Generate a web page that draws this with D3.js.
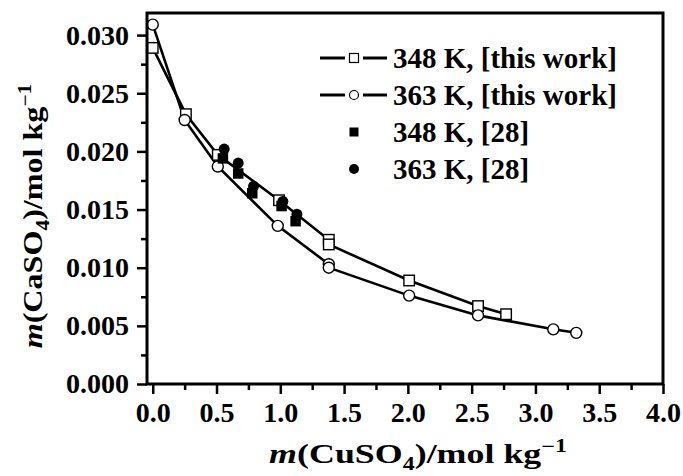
<!DOCTYPE html>
<html>
<head>
<meta charset="utf-8">
<script src="https://cdn.jsdelivr.net/npm/d3@7"></script>
<style>
  body { margin: 0; background: #fff; }
  text { font-family: "Liberation Serif", "Times New Roman", serif; font-weight: bold; fill: #000; }
</style>
</head>
<body>
<svg width="683" height="476"></svg>
<script>
// Data
const x348 = [0.0, 0.26, 0.51, 0.99, 1.38, 1.38, 2.01, 2.55, 2.77];
const y348 = [0.0289, 0.0232, 0.0197, 0.0158, 0.0124, 0.0120, 0.0089, 0.0067, 0.0060];

const x363 = [0.0, 0.25, 0.51, 0.98, 1.38, 1.38, 2.01, 2.55, 3.14, 3.32];
const y363 = [0.0309, 0.0227, 0.0187, 0.0136, 0.0103, 0.0100, 0.0076, 0.0059, 0.0047, 0.0044];

const xLit348 = [0.55, 0.67, 0.78, 1.01, 1.12];
const yLit348 = [0.0194, 0.0181, 0.0164, 0.0153, 0.0140];

const xLit363 = [0.56, 0.67, 0.79, 1.02, 1.13];
const yLit363 = [0.0202, 0.0190, 0.0170, 0.0157, 0.0146];

const xTicks = [0.0, 0.5, 1.0, 1.5, 2.0, 2.5, 3.0, 3.5, 4.0];
const xMinor = [0.25, 0.75, 1.25, 1.75, 2.25, 2.75, 3.25, 3.75];
const yTicks = [0.000, 0.005, 0.010, 0.015, 0.020, 0.025, 0.030];
const yMinor = [0.0025, 0.0075, 0.0125, 0.0175, 0.0225, 0.0275];

const legendLabels = ["348 K, [this work]", "363 K, [this work]", "348 K, [28]", "363 K, [28]"];

// Set SVG dimensions
const margin = { top: 13, right: 20, bottom: 92, left: 147 },
      width = 683 - margin.left - margin.right,
      height = 476 - margin.top - margin.bottom;

const svg = d3.select("svg")
    .append("g")
    .attr("transform", `translate(${margin.left},${margin.top})`);

// Scales
const x = d3.scaleLinear().domain([-0.045, 4.0]).range([0, width]);
const y = d3.scaleLinear().domain([0, 0.0319]).range([height, 0]);

// Axes (major + minor ticks, outward)
function styleAxis(g) {
    g.select(".domain").remove();
    g.selectAll(".tick line").attr("stroke", "#000").attr("stroke-width", 2.5);
    g.selectAll(".tick text").style("font-size", "28px");
}

svg.append("g")
    .attr("transform", `translate(0,${height})`)
    .call(d3.axisBottom(x).tickValues(xTicks).tickSize(10).tickPadding(8).tickFormat(d3.format(".1f")))
    .call(styleAxis);

svg.append("g")
    .attr("transform", `translate(0,${height})`)
    .call(d3.axisBottom(x).tickValues(xMinor).tickSize(6).tickFormat(""))
    .call(styleAxis);

svg.append("g")
    .call(d3.axisLeft(y).tickValues(yTicks).tickSize(10).tickPadding(8).tickFormat(d3.format(".3f")))
    .call(styleAxis);

svg.append("g")
    .call(d3.axisLeft(y).tickValues(yMinor).tickSize(6).tickFormat(""))
    .call(styleAxis);

// Lines
const line = d3.line().x(d => x(d[0])).y(d => y(d[1]));
const pts348 = x348.map((v, i) => [v, y348[i]]);
const pts363 = x363.map((v, i) => [v, y363[i]]);

[pts348, pts363].forEach(pts => {
    svg.append("path")
        .datum(pts)
        .attr("d", line)
        .attr("fill", "none")
        .attr("stroke", "#000")
        .attr("stroke-width", 2.6);
});

// Open markers (this work)
const sq = 10.5, rad = 5.5;
svg.selectAll(".sq348")
    .data(pts348)
    .enter()
    .append("rect")
    .attr("x", d => x(d[0]) - sq / 2)
    .attr("y", d => y(d[1]) - sq / 2)
    .attr("width", sq)
    .attr("height", sq)
    .attr("fill", "#fff")
    .attr("stroke", "#000")
    .attr("stroke-width", 1.4);

svg.selectAll(".ci363")
    .data(pts363)
    .enter()
    .append("circle")
    .attr("cx", d => x(d[0]))
    .attr("cy", d => y(d[1]))
    .attr("r", rad)
    .attr("fill", "#fff")
    .attr("stroke", "#000")
    .attr("stroke-width", 1.4);

// Filled markers (literature [28])
svg.selectAll(".lit348")
    .data(xLit348.map((v, i) => [v, yLit348[i]]))
    .enter()
    .append("rect")
    .attr("x", d => x(d[0]) - sq / 2)
    .attr("y", d => y(d[1]) - sq / 2)
    .attr("width", sq)
    .attr("height", sq)
    .attr("fill", "#000");

svg.selectAll(".lit363")
    .data(xLit363.map((v, i) => [v, yLit363[i]]))
    .enter()
    .append("circle")
    .attr("cx", d => x(d[0]))
    .attr("cy", d => y(d[1]))
    .attr("r", rad)
    .attr("fill", "#000");

// Frame
svg.append("rect")
    .attr("width", width)
    .attr("height", height)
    .attr("fill", "none")
    .attr("stroke", "#000")
    .attr("stroke-width", 3);

// Legend
const legend = svg.append("g").attr("transform", `translate(${320 - margin.left}, ${58 - margin.top})`);
const rowH = 37;
legendLabels.forEach((label, i) => {
    const row = legend.append("g").attr("transform", `translate(0,${i * rowH})`);
    if (i < 2) {
        row.append("line").attr("x1", 0).attr("x2", 25).attr("stroke", "#000").attr("stroke-width", 3);
        row.append("line").attr("x1", 43).attr("x2", 67).attr("stroke", "#000").attr("stroke-width", 3);
    }
    const filled = i >= 2;
    if (i % 2 === 0) {
        row.append("rect")
            .attr("x", 34 - 4.5).attr("y", -4.5).attr("width", 9).attr("height", 9)
            .attr("fill", filled ? "#000" : "#fff")
            .attr("stroke", "#000").attr("stroke-width", filled ? 0 : 1.2);
    } else {
        row.append("circle")
            .attr("cx", 34).attr("r", filled ? 5 : 4.5)
            .attr("fill", filled ? "#000" : "#fff")
            .attr("stroke", "#000").attr("stroke-width", filled ? 0 : 1.2);
    }
    row.append("text")
        .attr("x", 73)
        .attr("y", 10)
        .style("font-size", "29px")
        .text(label);
});

// X-axis label
const xTitle = svg.append("g")
    .attr("transform", `translate(${418 - margin.left},${463 - margin.top}) scale(1.33,1)`)
    .append("text")
    .attr("text-anchor", "middle")
    .style("font-size", "27px");
xTitle.append("tspan").attr("font-style", "italic").text("m");
xTitle.append("tspan").text("(CuSO");
xTitle.append("tspan").attr("dy", 7).style("font-size", "18px").text("4");
xTitle.append("tspan").attr("dy", -7).text(")/mol kg");
xTitle.append("tspan").attr("dy", -11).style("font-size", "18px").text("\u22121");

// Y-axis label
const yTitle = svg.append("g")
    .attr("transform", `translate(${42 - margin.left},${216 - margin.top}) rotate(-90) scale(1.19,1)`)
    .append("text")
    .attr("text-anchor", "middle")
    .style("font-size", "27px");
yTitle.append("tspan").attr("font-style", "italic").text("m");
yTitle.append("tspan").text("(CaSO");
yTitle.append("tspan").attr("dy", 7).style("font-size", "18px").text("4");
yTitle.append("tspan").attr("dy", -7).text(")/mol kg");
yTitle.append("tspan").attr("dy", -11).style("font-size", "18px").text("\u22121");
</script>
</body>
</html>
